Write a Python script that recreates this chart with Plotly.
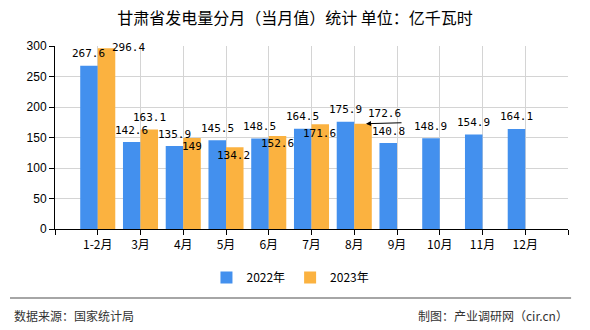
import plotly.graph_objects as go

categories = ["1-2月", "3月", "4月", "5月", "6月", "7月", "8月", "9月", "10月", "11月", "12月"]
series_2022 = [267.6, 142.6, 135.9, 145.5, 148.5, 164.5, 175.9, 140.8, 148.9, 154.9, 164.1]
series_2023 = [296.4, 163.1, 149, 134.2, 152.6, 171.6, 172.6, None, None, None, None]
y_ticks = [0, 50, 100, 150, 200, 250, 300]

BLUE = "#4390EE"
ORANGE = "#FBB240"
LABEL_FONT = dict(family="DejaVu Sans Mono, Liberation Mono, monospace", size=11, color="#000")
CJK = "Noto Sans CJK SC, sans-serif"

xs = list(range(len(categories)))
OFF = 0.205  # half of one bar slot within a group

fig = go.Figure()
fig.add_trace(go.Bar(name="2022年", x=xs, y=series_2022, marker_color=BLUE,
                     marker_line_width=0, hoverinfo="skip"))
fig.add_trace(go.Bar(name="2023年", x=xs, y=series_2023, marker_color=ORANGE,
                     marker_line_width=0, hoverinfo="skip"))

# label placement tweaks (pixel shifts) for overlapping labels, keyed by (series, index)
label_shift = {
    (1, 0): (22, 1),
    (1, 2): (0, -8),
    (1, 3): (-1, -8),
    (1, 4): (0, -8),
    (1, 5): (-1, -9),
    (1, 6): (21, 10),
}
annotations = []
for s, (vals, off) in enumerate([(series_2022, -OFF), (series_2023, OFF)]):
    for i, v in enumerate(vals):
        if v is None:
            continue
        dx, dy = label_shift.get((s, i), (0, 12))
        annotations.append(dict(x=i + off, y=v, xref="x", yref="y", text=f"{v:g}",
                                showarrow=False, xanchor="center", yanchor="middle",
                                xshift=dx, yshift=dy, font=LABEL_FONT))
# leader line for the 8月 2023 label
annotations.append(dict(x=6 + OFF, y=series_2023[6], xref="x", yref="y", text="",
                        showarrow=True, arrowhead=2, arrowsize=1, arrowwidth=1,
                        arrowcolor="#000", ax=37, ay=-1, xshift=3))

# footer
annotations.append(dict(x=-0.0838, y=-0.475, xref="paper", yref="paper", text="数据来源：国家统计局",
                        showarrow=False, xanchor="left", yanchor="middle",
                        font=dict(family=CJK, size=12, color="#333")))
annotations.append(dict(x=1.004, y=-0.475, xref="paper", yref="paper", text="制图：产业调研网（cir.cn）",
                        showarrow=False, xanchor="right", yanchor="middle",
                        font=dict(family=CJK, size=12, color="#333")))

fig.update_layout(
    width=590, height=330,
    margin=dict(l=55, r=22, t=46, b=101),
    paper_bgcolor="white", plot_bgcolor="white",
    barmode="group", bargap=0.18, bargroupgap=0,
    title=dict(text="甘肃省发电量分月（当月值）统计 单位：亿千瓦时", x=0.5, xanchor="center",
               y=1 - 18 / 330, yanchor="middle", yref="container",
               font=dict(family=CJK, size=16, color="#000")),
    legend=dict(orientation="h", x=0.459, xanchor="center", y=-0.265, yanchor="middle",
                font=dict(family=CJK, size=12, color="#000"), itemwidth=30,
                bgcolor="rgba(0,0,0,0)"),
    annotations=annotations,
    shapes=[dict(type="line", xref="paper", yref="paper", x0=-0.0877, x1=1.006,
                 y0=-0.377, y1=-0.377, line=dict(color="#888", width=1.5))],
)
fig.update_xaxes(range=[-1, len(categories)], tickmode="array",
                 tickvals=list(range(-1, len(categories) + 1)),
                 ticktext=[""] + categories + [""],
                 showgrid=True, gridcolor="#d4d4d4", gridwidth=1,
                 showline=True, linecolor="#000", linewidth=1,
                 ticks="outside", ticklen=5, tickcolor="#000",
                 tickfont=dict(family=CJK, size=12, color="#000"),
                 zeroline=False, fixedrange=True)
fig.update_yaxes(range=[0, 300], tickmode="array", tickvals=y_ticks,
                 showgrid=True, gridcolor="#d4d4d4", gridwidth=1,
                 showline=True, linecolor="#000", linewidth=1,
                 ticks="outside", ticklen=5, tickcolor="#000",
                 tickfont=dict(family="Liberation Sans, Arial, sans-serif", size=12, color="#000"),
                 zeroline=False, fixedrange=True)

fig.write_html("out.html", config={"displayModeBar": False})
